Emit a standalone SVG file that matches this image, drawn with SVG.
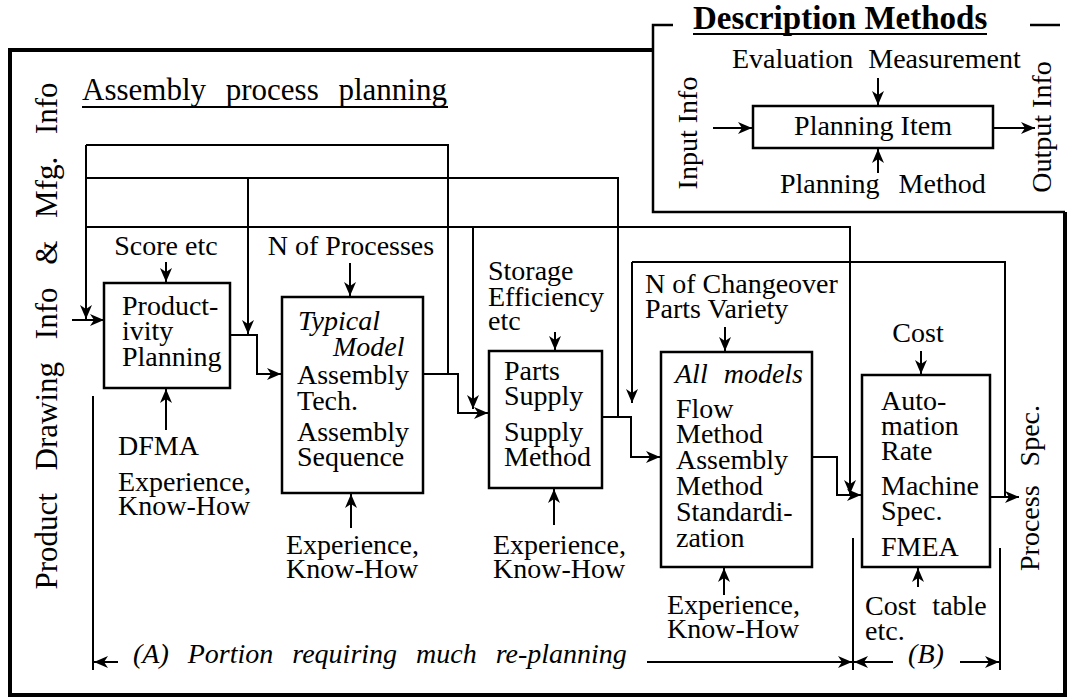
<svg xmlns="http://www.w3.org/2000/svg" width="1069" height="698" viewBox="0 0 1069 698">
<defs>
<marker id="ah" markerUnits="userSpaceOnUse" markerWidth="16" markerHeight="12" refX="14" refY="6" orient="auto">
<path d="M0,0 L14,6 L0,12 L4,6 Z" fill="#000"/>
</marker>
<style>
.t{font-family:"Liberation Serif","Times New Roman",serif;font-size:28px;fill:#000}
.i{font-style:italic}
.big{font-size:31px}
.hd{font-size:33px;font-weight:bold}
.box{fill:none;stroke:#000;stroke-width:2.5}
.ln{fill:none;stroke:#000;stroke-width:2}
.ar{fill:none;stroke:#000;stroke-width:2;marker-end:url(#ah)}
</style>
</defs>
<rect width="1069" height="698" fill="#fff"/>

<g id="frame">
<path d="M653,50 L10,50 L10,695 L1065,695 L1065,212" fill="none" stroke="#000" stroke-width="4"/>
<text class="t big" x="82" y="100" word-spacing="12">Assembly process planning</text>
<line x1="82" y1="107" x2="448" y2="107" stroke="#000" stroke-width="2"/>
<text class="t big" transform="translate(57,336) rotate(-90)" text-anchor="middle" word-spacing="15">Product Drawing Info &amp; Mfg. Info</text>
</g>

<g id="description">
<path d="M673,25 L653,25 L653,212 L1065,212" fill="none" stroke="#000" stroke-width="2.5"/>
<line x1="1030" y1="25" x2="1060" y2="25" stroke="#000" stroke-width="2.5"/>
<text class="t hd" x="693" y="29">Description Methods</text>
<line x1="693" y1="34" x2="987" y2="34" stroke="#000" stroke-width="2"/>
<text class="t" x="732" y="68" word-spacing="8">Evaluation Measurement</text>
<rect class="box" x="753" y="106" width="240" height="42"/>
<text class="t" x="873" y="135" text-anchor="middle">Planning Item</text>
<text class="t" x="780" y="193" word-spacing="12">Planning Method</text>
<text class="t" transform="translate(697,133) rotate(-90)" text-anchor="middle">Input Info</text>
<text class="t" transform="translate(1051,127) rotate(-90)" text-anchor="middle">Output Info</text>
<line class="ar" x1="878" y1="78" x2="878" y2="105"/>
<line class="ar" x1="878" y1="173" x2="878" y2="149"/>
<line class="ar" x1="713" y1="128" x2="752" y2="128"/>
<line class="ar" x1="994" y1="128" x2="1035" y2="128"/>
</g>

<g id="productivity">
<rect class="box" x="104" y="283" width="126" height="105"/>
<text class="t" x="122" y="315">Product-</text>
<text class="t" x="122" y="340">ivity</text>
<text class="t" x="122" y="366">Planning</text>
<text class="t" x="166" y="255" text-anchor="middle">Score etc</text>
<text class="t" x="118" y="455">DFMA</text>
<text class="t" x="118" y="491">Experience,</text>
<text class="t" x="118" y="515">Know-How</text>
</g>

<g id="typical">
<rect class="box" x="282" y="297" width="141" height="196"/>
<text class="t i" x="298" y="330">Typical</text>
<text class="t i" x="333" y="356">Model</text>
<text class="t" x="297" y="384">Assembly</text>
<text class="t" x="297" y="410">Tech.</text>
<text class="t" x="297" y="441">Assembly</text>
<text class="t" x="297" y="466">Sequence</text>
<text class="t" x="351" y="255" text-anchor="middle">N of Processes</text>
<text class="t" x="286" y="554">Experience,</text>
<text class="t" x="286" y="578">Know-How</text>
</g>

<g id="parts">
<rect class="box" x="489" y="351" width="113" height="137"/>
<text class="t" x="504" y="380">Parts</text>
<text class="t" x="504" y="405">Supply</text>
<text class="t" x="504" y="441">Supply</text>
<text class="t" x="504" y="466">Method</text>
<text class="t" x="488" y="280">Storage</text>
<text class="t" x="488" y="306">Efficiency</text>
<text class="t" x="488" y="330">etc</text>
<text class="t" x="493" y="554">Experience,</text>
<text class="t" x="493" y="578">Know-How</text>
</g>

<g id="allmodels">
<rect class="box" x="661" y="352" width="151" height="215"/>
<text class="t i" x="675" y="383" word-spacing="9">All models</text>
<text class="t" x="676" y="418">Flow</text>
<text class="t" x="676" y="443">Method</text>
<text class="t" x="676" y="469">Assembly</text>
<text class="t" x="676" y="495">Method</text>
<text class="t" x="676" y="521">Standardi-</text>
<text class="t" x="676" y="547">zation</text>
<text class="t" x="645" y="293">N of Changeover</text>
<text class="t" x="645" y="318">Parts Variety</text>
<text class="t" x="667" y="614">Experience,</text>
<text class="t" x="667" y="638">Know-How</text>
</g>

<g id="automation">
<rect class="box" x="862" y="375" width="128" height="192"/>
<text class="t" x="881" y="410">Auto-</text>
<text class="t" x="881" y="435">mation</text>
<text class="t" x="881" y="460">Rate</text>
<text class="t" x="881" y="495">Machine</text>
<text class="t" x="881" y="520">Spec.</text>
<text class="t" x="881" y="556">FMEA</text>
<text class="t" x="918" y="342" text-anchor="middle">Cost</text>
<text class="t" x="865" y="615" word-spacing="9">Cost table</text>
<text class="t" x="865" y="640">etc.</text>
</g>

<g id="output">
<text class="t" transform="translate(1039,488) rotate(-90)" text-anchor="middle" word-spacing="12">Process Spec.</text>
</g>

<g id="ranges">
<line class="ln" x1="93" y1="396" x2="93" y2="670"/>
<line class="ln" x1="853" y1="538" x2="853" y2="670"/>
<line class="ln" x1="1000" y1="548" x2="1000" y2="670"/>
<line class="ar" x1="118" y1="662" x2="94" y2="662"/>
<line class="ar" x1="647" y1="662" x2="852" y2="662"/>
<line class="ar" x1="893" y1="662" x2="854" y2="662"/>
<line class="ar" x1="960" y1="662" x2="999" y2="662"/>
<text class="t i" x="133" y="663" word-spacing="12">(A) Portion requiring much re-planning</text>
<text class="t i" x="926" y="663" text-anchor="middle">(B)</text>
</g>

<g id="connectors">
<line class="ar" x1="72" y1="320" x2="104" y2="320"/>
<line class="ar" x1="86" y1="145" x2="86" y2="319"/>
<polyline class="ln" points="86,145 448,145 448,374"/>
<polyline class="ln" points="86,178 618,178 618,417"/>
<polyline class="ar" points="86,227 850,227 850,494"/>
<line class="ar" x1="248" y1="178" x2="248" y2="334"/>
<line class="ar" x1="473" y1="227" x2="473" y2="409"/>
<polyline class="ln" points="632,262 1005,262 1005,497"/>
<line class="ar" x1="632" y1="262" x2="632" y2="403"/>
<polyline class="ar" points="230,335 257,335 257,374 281,374"/>
<polyline class="ar" points="423,374 458,374 458,413 488,413"/>
<polyline class="ar" points="602,417 631,417 631,457 660,457"/>
<polyline class="ar" points="812,457 837,457 837,495 861,495"/>
<line class="ar" x1="990" y1="497" x2="1019" y2="497"/>
<line class="ar" x1="166" y1="262" x2="166" y2="282"/>
<line class="ar" x1="350" y1="263" x2="350" y2="296"/>
<line class="ar" x1="555" y1="332" x2="555" y2="350"/>
<line class="ar" x1="725" y1="327" x2="725" y2="351"/>
<line class="ar" x1="921" y1="351" x2="921" y2="374"/>
<line class="ar" x1="166" y1="430" x2="166" y2="389"/>
<line class="ar" x1="351" y1="528" x2="351" y2="494"/>
<line class="ar" x1="554" y1="525" x2="554" y2="489"/>
<line class="ar" x1="724" y1="595" x2="724" y2="568"/>
<line class="ar" x1="918" y1="587" x2="918" y2="568"/>
</g>
</svg>
